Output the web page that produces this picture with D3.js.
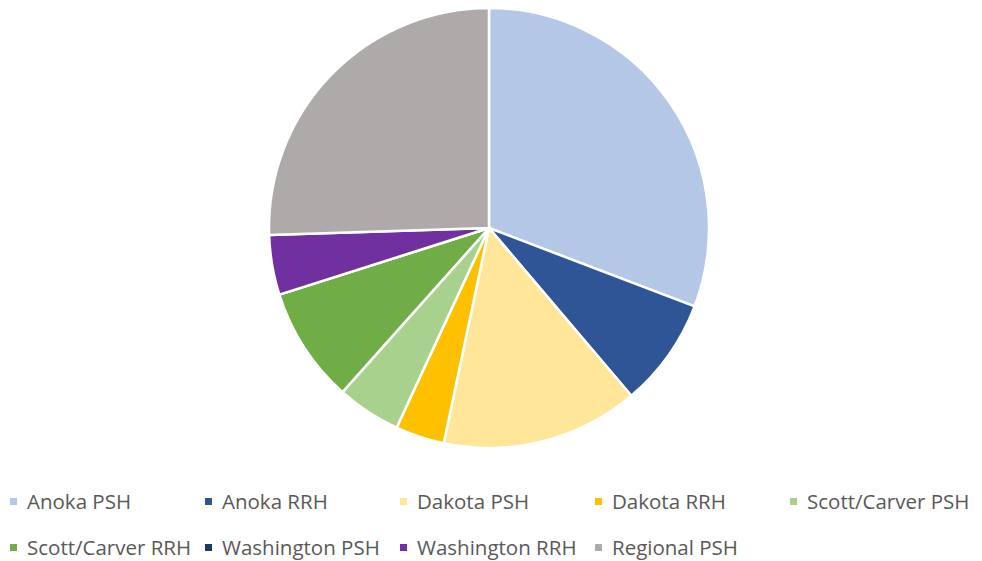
<!DOCTYPE html>
<html>
<head>
<meta charset="utf-8">
<script src="https://cdn.jsdelivr.net/npm/d3@7"></script>
<style>
  body { margin: 0; background: #fff; }
  svg { display: block; }
</style>
</head>
<body>
<svg id="chart" width="982" height="561"></svg>
<script>
// data (share of total, %)
const categories = ["Anoka PSH", "Anoka RRH", "Dakota PSH", "Dakota RRH", "Scott/Carver PSH",
                    "Scott/Carver RRH", "Washington PSH", "Washington RRH", "Regional PSH"];
const values = [30.8, 8.0, 14.5, 3.6, 4.7, 8.5, 0, 4.4, 25.5];
const colors = ["#B4C7E7", "#2F5597", "#FFE699", "#FFC000", "#A9D18E",
                "#70AD47", "#203864", "#7030A0", "#AEAAAA"];

const width = 982, height = 561;
const cx = 489, cy = 228, r = 220;

const svg = d3.select("#chart");

const pie = d3.pie().sort(null).value(d => d.value);
const arc = d3.arc().innerRadius(0).outerRadius(r);

const data = categories.map((c, i) => ({ name: c, value: values[i], color: colors[i] }));

svg.append("g")
    .attr("transform", `translate(${cx},${cy})`)
    .selectAll("path")
    .data(pie(data))
    .enter()
    .append("path")
    .attr("d", arc)
    .attr("fill", d => d.data.color)
    .attr("stroke", "#fff")
    .attr("stroke-width", 2.5)
    .attr("stroke-linejoin", "round");

// legend, 5 per row
const perRow = 5, colW = 195, x0 = 10, rowY = [509, 555];
const legend = svg.append("g").selectAll("g")
    .data(data)
    .enter()
    .append("g")
    .attr("transform", (d, i) => `translate(${x0 + (i % perRow) * colW},${rowY[Math.floor(i / perRow)]})`);

legend.append("rect")
    .attr("x", 0)
    .attr("y", -11)
    .attr("width", 7)
    .attr("height", 7)
    .attr("fill", d => d.color);

legend.append("text")
    .attr("x", 17)
    .attr("y", 0)
    .attr("font-family", "'Open Sans', sans-serif")
    .attr("font-size", 20.5)
    .attr("fill", "#595959")
    .text(d => d.name);
</script>
</body>
</html>
